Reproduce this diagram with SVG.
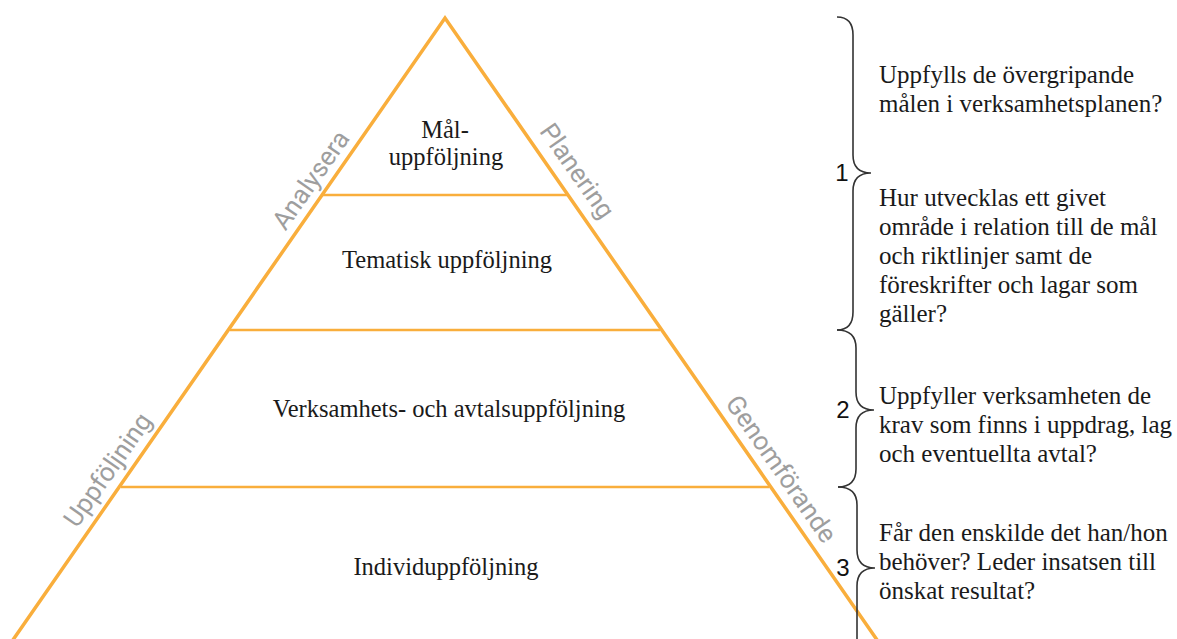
<svg xmlns="http://www.w3.org/2000/svg" width="1177" height="639" viewBox="0 0 1177 639">
<style>
.side{fill:none;stroke:#F9AE3C;stroke-width:3.5;stroke-linejoin:miter}
.hl{stroke:#F9AE3C;stroke-width:2.6}
.lvl{font-family:"Liberation Serif",serif;font-size:24.5px;fill:#1a1a1a;text-anchor:middle}
.q{font-family:"Liberation Serif",serif;font-size:25px;fill:#1a1a1a}
.rot{font-family:Roboto,"Liberation Sans",sans-serif;font-size:26px;fill:#9e9e9e;text-anchor:middle}
.num{font-family:"Liberation Sans",Arial,sans-serif;font-size:24px;fill:#111;text-anchor:middle}
.brace{fill:none;stroke:#333;stroke-width:1.6}
</style>
<rect width="1177" height="639" fill="#fff"/>
<g id="pyramid">
<polyline class="side" points="-1,660 445,18 891,660"/>
<line class="hl" x1="323" y1="195" x2="567" y2="195"/>
<line class="hl" x1="230" y1="330" x2="660" y2="330"/>
<line class="hl" x1="121" y1="487" x2="769" y2="487"/>
</g>
<g id="level-mal">
<text class="lvl" x="445" y="138">Mål-</text>
<text class="lvl" x="446" y="165">uppföljning</text>
</g>
<g id="level-tematisk"><text class="lvl" x="447" y="268">Tematisk uppföljning</text></g>
<g id="level-verksamhet"><text class="lvl" x="449" y="417">Verksamhets- och avtalsuppföljning</text></g>
<g id="level-individ"><text class="lvl" x="446" y="575">Individuppföljning</text></g>
<g id="side-labels">
<text class="rot" transform="translate(318,185) rotate(-55)">Analysera</text>
<text class="rot" transform="translate(570,176) rotate(55)">Planering</text>
<text class="rot" transform="translate(115,475) rotate(-55)">Uppföljning</text>
<text class="rot" transform="translate(774,474) rotate(55)">Genomförande</text>
</g>
<g id="connectors">
<path class="brace" d="M837,17 Q853,17 853,35 L853,155 Q853,173 871,173 Q853,173 853,191 L853,312 Q853,330 837,330"/>
<path class="brace" d="M837,330 Q856,330 856,348 L856,392 Q856,410 874,410 Q856,410 856,428 L856,469 Q856,487 838,487"/>
<path class="brace" d="M838,487 Q857,487 857,505 L857,550 Q857,568 875,568 Q857,568 857,586 L857,645"/>
</g>
<g id="group-1">
<text class="num" x="842" y="181">1</text>
<text class="q"><tspan x="879" y="83">Uppfylls de övergripande</tspan><tspan x="879" y="112">målen i verksamhetsplanen?</tspan></text>
<text class="q"><tspan x="879" y="206">Hur utvecklas ett givet</tspan><tspan x="879" y="235">område i relation till de mål</tspan><tspan x="879" y="264">och riktlinjer samt de</tspan><tspan x="879" y="293">föreskrifter och lagar som</tspan><tspan x="879" y="322">gäller?</tspan></text>
</g>
<g id="group-2">
<text class="num" x="843" y="418">2</text>
<text class="q"><tspan x="879" y="404">Uppfyller verksamheten de</tspan><tspan x="879" y="433">krav som finns i uppdrag, lag</tspan><tspan x="879" y="462">och eventuellta avtal?</tspan></text>
</g>
<g id="group-3">
<text class="num" x="843" y="576">3</text>
<text class="q"><tspan x="879" y="541">Får den enskilde det han/hon</tspan><tspan x="879" y="570">behöver? Leder insatsen till</tspan><tspan x="879" y="599">önskat resultat?</tspan></text>
</g>
</svg>
